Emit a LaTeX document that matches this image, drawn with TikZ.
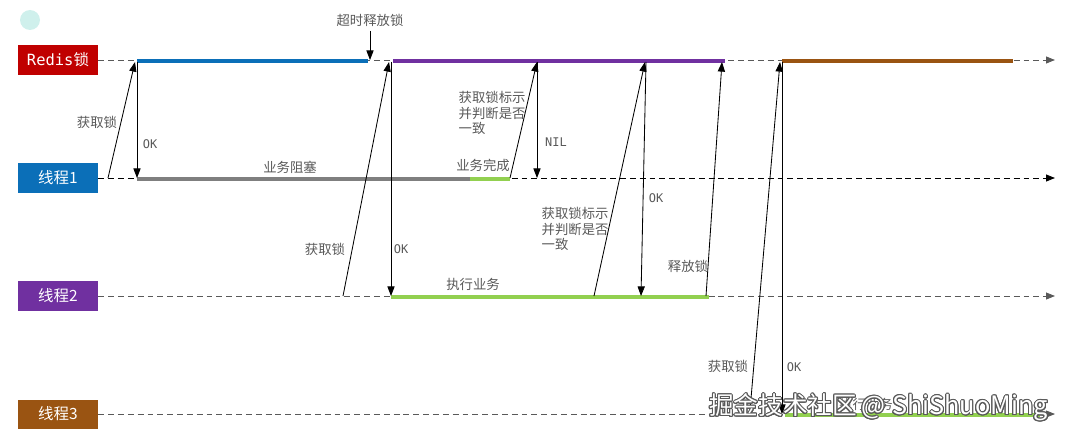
\documentclass[tikz,border=0pt]{standalone}
\usepackage{fontspec}
\setmainfont{Noto Sans CJK SC}
\newfontfamily\monofont{DejaVu Sans Mono}
\usepackage[copies]{contour}
\usepackage{tikz}
\usetikzlibrary{arrows.meta,positioning}
\definecolor{rojoredis}{HTML}{C00000}
\definecolor{azulhilo}{HTML}{0B6FB8}
\definecolor{moradohilo}{HTML}{7030A0}
\definecolor{cafehilo}{HTML}{9A5412}
\definecolor{verdeok}{HTML}{92D050}
\definecolor{grisbloq}{HTML}{7F7F7F}
\definecolor{gristexto}{HTML}{595959}
\definecolor{turquesa}{HTML}{CFF0EC}
\contourlength{0.7pt}

\begin{document}
\begin{tikzpicture}[x=0.025cm,y=-0.025cm,
  carril/.style={fill=#1,text=white,minimum width=2cm,minimum height=0.725cm,
                 inner sep=0pt,font=\fontsize{11}{12}\selectfont},
  eje/.style={draw=gristexto,dash pattern=on 4.2pt off 2.8pt,line width=0.6pt,
              -{Triangle[length=2.2mm,width=1.7mm]}},
  barra/.style={line width=2.8pt},
  msg/.style={-{Triangle[length=2.4mm,width=1.8mm]},line width=0.6pt},
  etq/.style={text=gristexto,font=\fontsize{9.5}{11}\selectfont,inner sep=1pt},
  bloque/.style={etq,align=left,anchor=north west},
  cod/.style={text=gristexto,font=\monofont\fontsize{8.5}{10}\selectfont,inner sep=1pt}
]
\useasboundingbox (0,0) rectangle (1069,440);
\fill[turquesa] (30,20) circle (10);

% carriles
\node[carril=rojoredis]  (redis) at (58,60)  {{\monofont Redis}锁};
\node[carril=azulhilo]   (h1)    at (58,178) {线程1};
\node[carril=moradohilo] (h2)    at (58,296) {线程2};
\node[carril=cafehilo]   (h3)    at (58,414) {线程3};

\coordinate (redisfin) at (1055,60);
\coordinate (h1fin) at (1055,178);
\coordinate (h2fin) at (1055,296);
\coordinate (h3fin) at (1055,414);
\draw[eje] (redis.east) -- (redisfin);
\draw[eje,draw=black] (h1.east) -- (h1fin);
\draw[eje] (h2.east) -- (h2fin);
\draw[eje] (h3.east) -- (h3fin);

% tramos
\draw[barra,azulhilo]   (137,61) -- (368,61);
\draw[barra,moradohilo] (393,61) -- (725,61);
\draw[barra,cafehilo]   (782,61) -- (1013,61);
\draw[barra,grisbloq]   (137,179) -- (470,179);
\draw[barra,verdeok]    (470,179) -- (510,179);
\draw[barra,verdeok]    (391,297) -- (709,297);
\draw[barra,verdeok]    (785,415) -- (1040,415);

% hilo 1
\coordinate (a1) at (108,178);
\coordinate (b1) at (135,62);
\coordinate (c1) at (137,62);
\coordinate (d1) at (137,178);
\draw[msg] (a1) -- (b1);
\draw[msg] (c1) -- (d1);
\node[etq] (lk1) at (97,122) {获取锁};
\node[cod] (ok1) at (150,144) {OK};
\node[etq] (bq1) at (290,167) {业务阻塞};

\node[etq] (tout) at (370,20) {超时释放锁};
\coordinate (tout1) at (370,31);
\coordinate (rel1) at (370,60);
\draw[msg] (tout1) -- (rel1);

% hilo 2 toma el candado
\coordinate (a2) at (343,296);
\coordinate (b2) at (389,62);
\coordinate (c2) at (391,62);
\coordinate (d2) at (391,296);
\draw[msg] (a2) -- (b2);
\draw[msg] (c2) -- (d2);
\node[etq] (lk2) at (325,249) {获取锁};
\node[cod] (ok2) at (401,249) {OK};
\node[etq] (ej2) at (473,284) {执行业务};

% hilo 1 termina
\coordinate (e1) at (510,178);
\coordinate (f1) at (537,62);
\coordinate (g1) at (537,178);
\draw[msg] (e1) -- (f1);
\draw[msg] (f1) -- (g1);
\node[etq] (fin1) at (483,165) {业务完成};
\node[bloque] (chk1) at (457,90) {获取锁标示\\并判断是否\\一致};
\node[cod] (nil1) at (556,142) {NIL};

% hilo 2 termina
\coordinate (e2) at (594,296);
\coordinate (f2) at (645,62);
\coordinate (g2) at (646,62);
\coordinate (h2b) at (641,296);
\draw[msg] (e2) -- (f2);
\draw[msg] (g2) -- (h2b);
\node[bloque] (chk2) at (540,206) {获取锁标示\\并判断是否\\一致};
\node[cod] (ok2b) at (656,198) {OK};
\coordinate (i2) at (706,296);
\coordinate (j2) at (722,62);
\draw[msg] (i2) -- (j2);
\node[etq] (rl2) at (688,266) {释放锁};

% hilo 3
\coordinate (a3) at (750,410);
\coordinate (b3) at (780,62);
\coordinate (c3) at (782,62);
\coordinate (d3) at (782,414);
\draw[msg] (a3) -- (b3);
\draw[msg] (c3) -- (d3);
\node[etq] (lk3) at (728,366) {获取锁};
\node[cod] (ok3) at (794,367) {OK};
\node[etq] (ej3) at (866,404) {执行业务};

% marca de agua
\node[anchor=west,inner sep=0pt] (marca) at (709,408)
  {\contour{gristexto}{\textcolor{white}{\fontsize{17.5}{20}\selectfont 掘金技术社区\fontsize{18}{20}\selectfont\,@\;ShiShuoMing}}};
\end{tikzpicture}
\end{document}
